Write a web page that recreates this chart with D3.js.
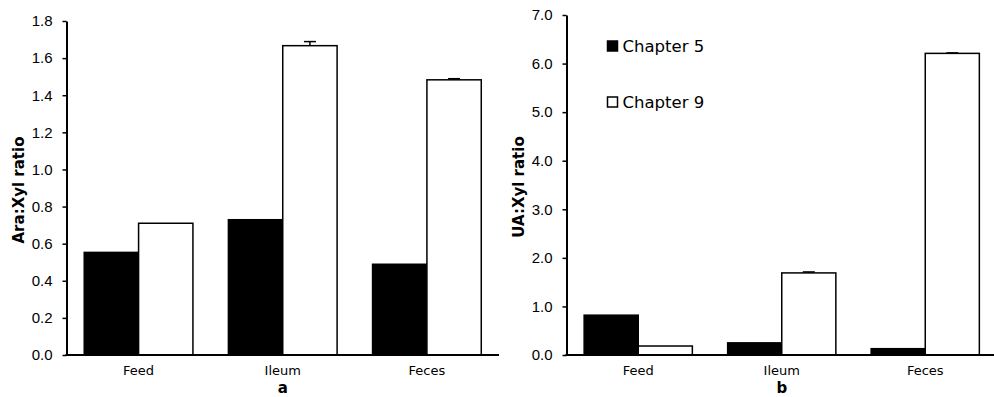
<!DOCTYPE html>
<html>
<head>
<meta charset="utf-8">
<script src="https://cdn.jsdelivr.net/npm/d3@7"></script>
<style>
  body { margin: 0; background: #fff; }
  svg { display: block; font-family: "DejaVu Sans", sans-serif; }
</style>
</head>
<body>
<svg id="chart" width="994" height="397"></svg>
<script>
const categories = ["Feed", "Ileum", "Feces"];
const series = ["Chapter 5", "Chapter 9"];

// panel a: Ara:Xyl ratio
const araCh5 = [0.553, 0.729, 0.489];
const araCh9 = [0.71, 1.667, 1.483];
const araErr5 = [0, 0, 0];
const araErr9 = [0, 0.022, 0.006];
const araTicks = [0, 0.2, 0.4, 0.6, 0.8, 1.0, 1.2, 1.4, 1.6, 1.8];

// panel b: UA:Xyl ratio
const uaCh5 = [0.82, 0.25, 0.13];
const uaCh9 = [0.185, 1.69, 6.21];
const uaErr5 = [0, 0, 0];
const uaErr9 = [0, 0.02, 0.01];
const uaTicks = [0, 1, 2, 3, 4, 5, 6, 7];

const fills = ["#000", "#fff"];

const svg = d3.select("#chart");

function drawPanel(opts) {
    const { left, right, top, bottom, max, ticks, fmt, values, errors, title, letter, legend } = opts;

    const g = svg.append("g");

    const x = d3.scaleBand()
        .domain(categories)
        .range([left, right])
        .paddingInner(0.246)
        .paddingOuter(0.123);

    const xSub = d3.scaleBand()
        .domain(series)
        .range([0, x.bandwidth()]);

    const y = d3.scaleLinear()
        .domain([0, max])
        .range([bottom, top]);

    const rows = [];
    categories.forEach((c, i) => {
        series.forEach((s, j) => {
            rows.push({ cat: c, ser: s, idx: j, value: values[j][i], err: errors[j][i] });
        });
    });

    // bars
    g.append("g")
        .selectAll("rect")
        .data(rows)
        .join("rect")
        .attr("x", d => x(d.cat) + xSub(d.ser))
        .attr("y", d => y(d.value))
        .attr("width", xSub.bandwidth())
        .attr("height", d => y(0) - y(d.value))
        .attr("fill", d => fills[d.idx])
        .attr("stroke", "#000")
        .attr("stroke-width", 1.5);

    // error bars (upper only)
    const eb = g.append("g")
        .attr("stroke", "#000")
        .attr("stroke-width", 1.5)
        .selectAll("g")
        .data(rows.filter(d => d.err > 0))
        .join("g");
    eb.append("line")
        .attr("x1", d => x(d.cat) + xSub(d.ser) + xSub.bandwidth() / 2)
        .attr("x2", d => x(d.cat) + xSub(d.ser) + xSub.bandwidth() / 2)
        .attr("y1", d => y(d.value))
        .attr("y2", d => y(d.value + d.err));
    eb.append("line")
        .attr("x1", d => x(d.cat) + xSub(d.ser) + xSub.bandwidth() / 2 - 6)
        .attr("x2", d => x(d.cat) + xSub(d.ser) + xSub.bandwidth() / 2 + 6)
        .attr("y1", d => y(d.value + d.err))
        .attr("y2", d => y(d.value + d.err));

    // y axis
    const yAxis = g.append("g")
        .attr("transform", `translate(${left},0)`)
        .call(d3.axisLeft(y).tickValues(ticks).tickFormat(fmt).tickSize(4).tickSizeOuter(0).tickPadding(10));
    yAxis.select(".domain").attr("stroke-width", 2);
    yAxis.selectAll(".tick line").attr("stroke-width", 1.5);
    yAxis.selectAll("text").attr("font-size", 15).attr("fill", "#000");

    // x axis line
    g.append("line")
        .attr("x1", left - 1)
        .attr("x2", right)
        .attr("y1", y(0))
        .attr("y2", y(0))
        .attr("stroke", "#000")
        .attr("stroke-width", 2);

    // category labels
    g.append("g")
        .selectAll("text")
        .data(categories)
        .join("text")
        .attr("x", d => x(d) + x.bandwidth() / 2)
        .attr("y", bottom + 20)
        .attr("text-anchor", "middle")
        .attr("font-size", 13)
        .text(d => d);

    // panel letter
    g.append("text")
        .attr("x", x("Ileum") + x.bandwidth() / 2)
        .attr("y", bottom + 38)
        .attr("text-anchor", "middle")
        .attr("font-size", 15)
        .attr("font-weight", "bold")
        .text(letter);

    // y title
    g.append("text")
        .attr("transform", `translate(${left - 43},${(top + bottom) / 2 + 2}) rotate(-90)`)
        .attr("text-anchor", "middle")
        .attr("font-size", 15)
        .attr("font-weight", "bold")
        .text(title);

    if (legend) {
        const lg = g.append("g")
            .selectAll("g")
            .data(series)
            .join("g")
            .attr("transform", (d, i) => `translate(${left + 41},${41 + i * 56})`);
        lg.append("rect")
            .attr("width", 10)
            .attr("height", 10)
            .attr("fill", (d, i) => fills[i])
            .attr("stroke", "#000")
            .attr("stroke-width", 1.5);
        lg.append("text")
            .attr("x", 15)
            .attr("y", 11)
            .attr("font-size", 16.5)
            .text(d => d);
    }
}

drawPanel({
    left: 66.5, right: 499, top: 21, bottom: 355,
    max: 1.8, ticks: araTicks, fmt: d3.format(".1f"),
    values: [araCh5, araCh9], errors: [araErr5, araErr9],
    title: "Ara:Xyl ratio", letter: "a", legend: false
});

drawPanel({
    left: 566.5, right: 997, top: 15, bottom: 355,
    max: 7, ticks: uaTicks, fmt: d3.format(".1f"),
    values: [uaCh5, uaCh9], errors: [uaErr5, uaErr9],
    title: "UA:Xyl ratio", letter: "b", legend: true
});
</script>
</body>
</html>
